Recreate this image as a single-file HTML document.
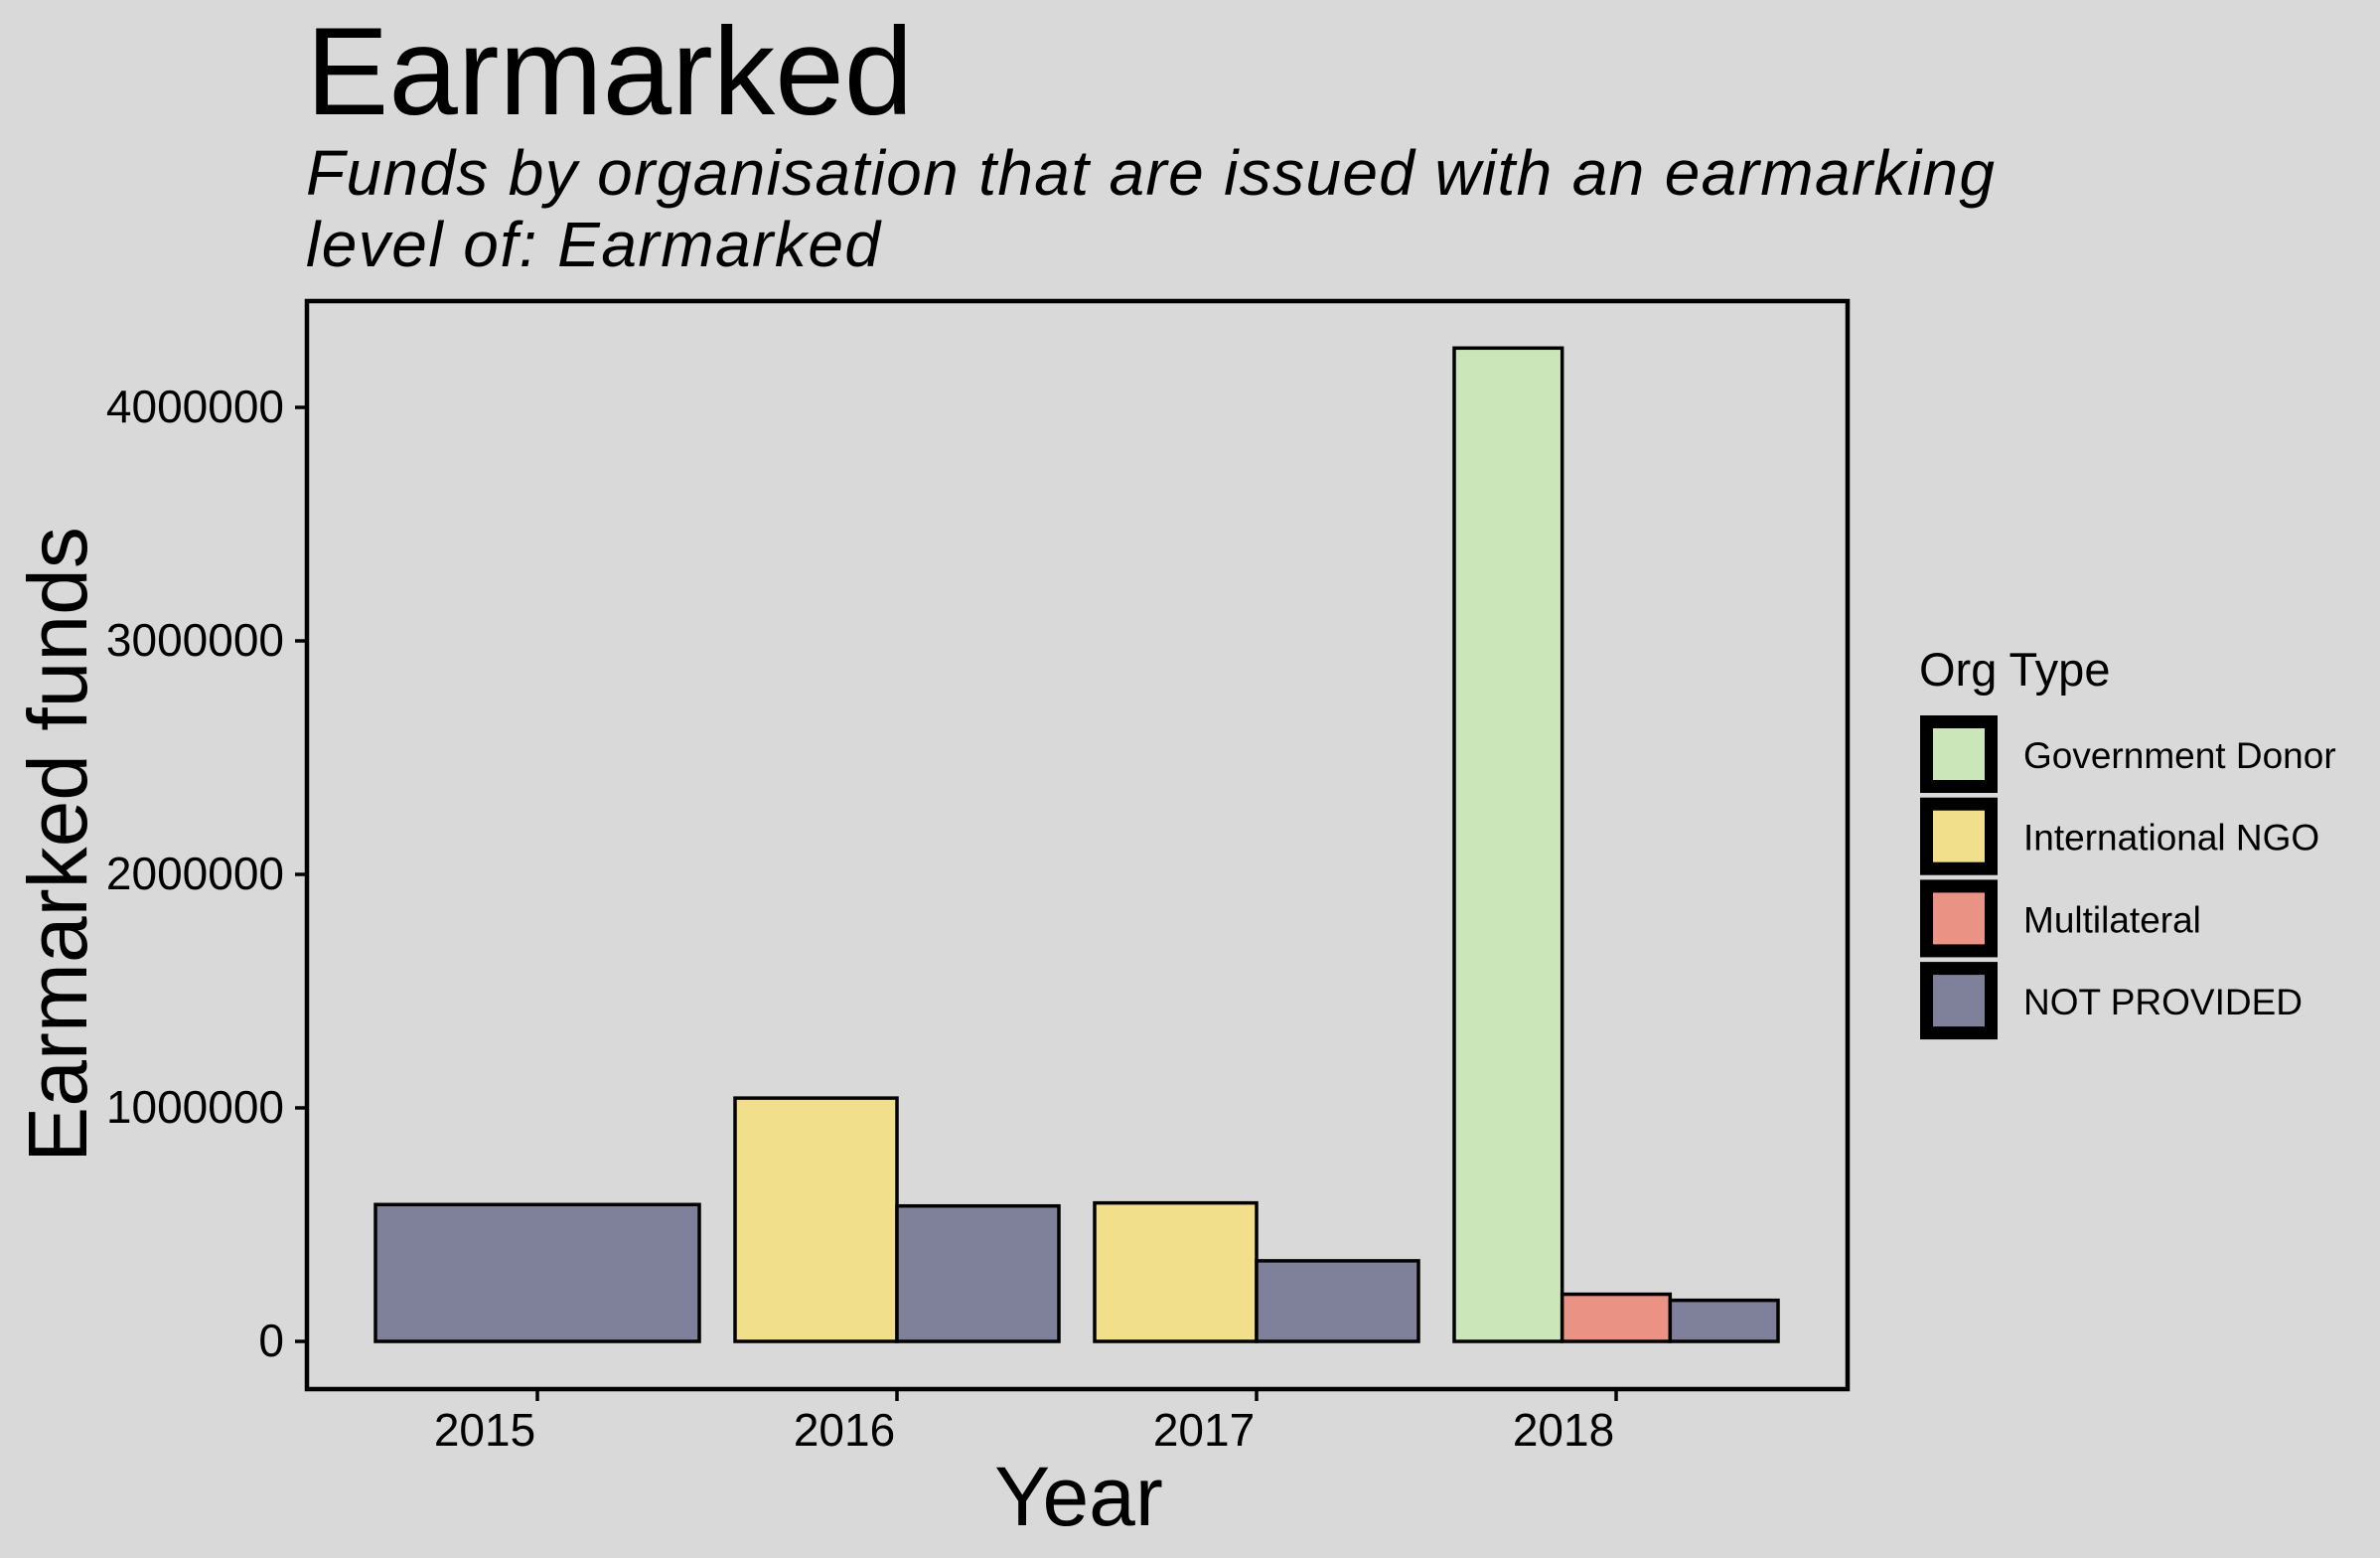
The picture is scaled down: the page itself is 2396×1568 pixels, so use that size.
<!DOCTYPE html>
<html><head><meta charset="utf-8"><style>
html,body{margin:0;padding:0;background:#d9d9d9;}
svg{display:block;font-family:"Liberation Sans",sans-serif;}
</style></head><body>
<svg id="chart" width="2396" height="1568" viewBox="0 0 2396 1568" xmlns="http://www.w3.org/2000/svg">
<rect x="0" y="0" width="2396" height="1568" fill="#d9d9d9"/>
<text x="308" y="115" font-size="125">Earmarked</text>
<text x="308" y="196" font-size="64" font-style="italic" textLength="1700">Funds by organisation that are issued with an earmarking</text>
<text x="308" y="268" font-size="64" font-style="italic" textLength="578">level of: Earmarked</text>
<g id="plot"></g>
<rect x="309" y="303" width="1551" height="1095" fill="none" stroke="#000" stroke-width="4.5"/>
<text x="1086" y="1535" font-size="84" text-anchor="middle">Year</text>
<text transform="translate(87,850) rotate(-90)" font-size="84" text-anchor="middle">Earmarked funds</text>
<g id="legend"></g>
</svg>
<script>
const years = ["2015","2016","2017","2018"];
const orgTypes = ["Government Donor","International NGO","Multilateral","NOT PROVIDED"];
const colors = ["#cbe7b9","#f1df8b","#ea9385","#7f8099"];
// per-year bars: [orgTypeIndex, value]
const barOrg = [[3],[1,3],[1,3],[0,2,3]];
const barVal = [[586000],[1042000,580000],[593000,345000],[4254000,202000,176000]];
const yTicks = [0,1000000,2000000,3000000,4000000];
const yTickLabels = ["0","1000000","2000000","3000000","4000000"];

const NS="http://www.w3.org/2000/svg";
const plot=document.getElementById('plot');
const x0=541, xStep=362, groupW=326;
const y0=1350, pxPerUnit=235/1000000;
const xScale=i=>x0+i*xStep;
const yScale=v=>y0-v*pxPerUnit;
function mk(tag,attrs,parent){const e=document.createElementNS(NS,tag);for(const k in attrs)e.setAttribute(k,attrs[k]);parent.appendChild(e);return e;}

yTicks.forEach((v,i)=>{
  const y=yScale(v);
  const t=mk('line',{x1:297,x2:309,y1:y,y2:y,stroke:'#000','stroke-width':3.5},plot);
  
  
  const l=mk('text',{x:286,y:y+15,'font-size':46,'text-anchor':'end'},plot);
  l.textContent=yTickLabels[i];
  
  
});
years.forEach((yr,i)=>{
  const cx=xScale(i);
  const t=mk('line',{x1:cx,x2:cx,y1:1398,y2:1410,stroke:'#000','stroke-width':3.5},plot);
  
  
  const l=mk('text',{x:cx-53,y:1455,'font-size':46,'text-anchor':'middle'},plot);
  l.textContent=yr;
  
  
  const n=barOrg[i].length, w=groupW/n;
  barOrg[i].forEach((o,j)=>{
    const v=barVal[i][j];
    const bx=cx-groupW/2+j*w;
    const r=mk('rect',{x:bx,y:yScale(v),width:w,height:y0-yScale(v),fill:colors[o],stroke:'#000','stroke-width':3.5},plot);
    
    
  });
});
const leg=document.getElementById('legend');
const lt=mk('text',{x:1932,y:690,'font-size':47},leg);
lt.textContent="Org Type";


orgTypes.forEach((name,i)=>{
  const y=720+i*82.7;
  const g=mk('g',{},leg);
  
  
  mk('rect',{x:1939.5,y:y+6.5,width:65,height:65,fill:colors[i],stroke:'#000','stroke-width':13},g);
  const t=mk('text',{x:2037,y:y+53,'font-size':37},g);
  t.textContent=name;
});
</script>
</body></html>
